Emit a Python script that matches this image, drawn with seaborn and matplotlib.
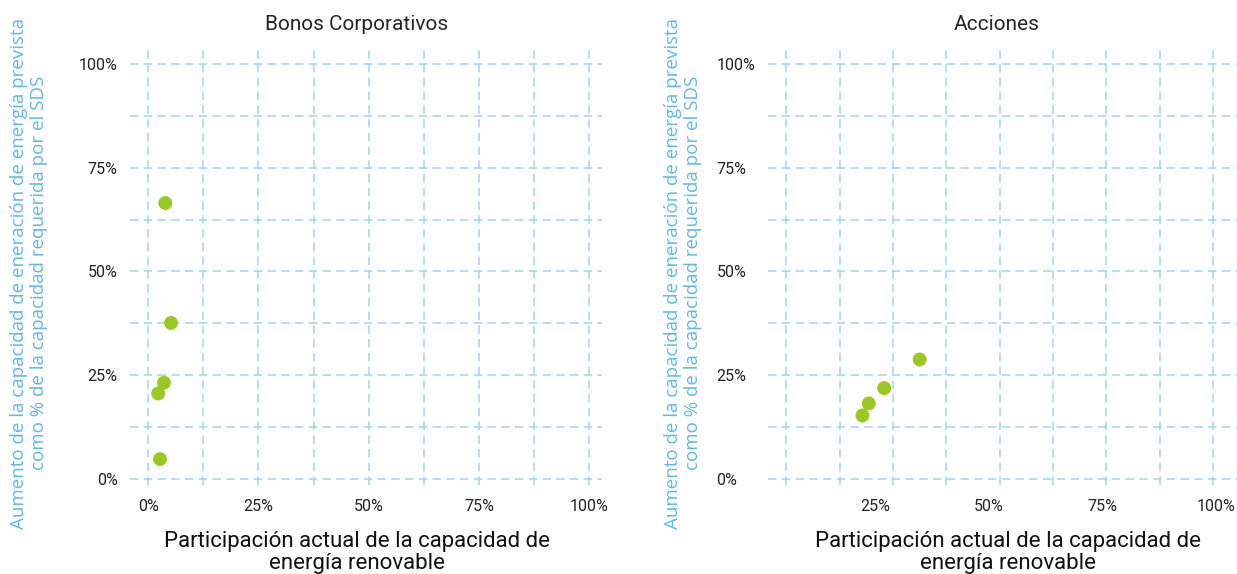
import numpy as np
import pandas as pd
import matplotlib
matplotlib.use("Agg")
import matplotlib.pyplot as plt
import matplotlib.ticker as mticker
import seaborn as sns

# datos (fracciones)
bonos_x = [0.039, 0.052, 0.036, 0.023, 0.027]
bonos_y = [0.665, 0.376, 0.232, 0.206, 0.048]
acciones_x = [0.347, 0.269, 0.235, 0.221]
acciones_y = [0.288, 0.219, 0.182, 0.153]

titles = ["Bonos Corporativos", "Acciones"]
tick_vals = [0, 0.25, 0.5, 0.75, 1.0]
tick_labels = ["0%", "25%", "50%", "75%", "100%"]

xlabel = "Participación actual de la capacidad de\nenergía renovable"
ylabel = ("Aumento de la capacidad de eneración de energía prevista\n"
          "como % de la capacidad requerida por el SDS")

green = "#9bc824"
grid_blue = "#a3d4ef"
label_blue = "#62b9e2"
dash = (0, (5.5, 3.5))

sns.set_style("white")
plt.rcParams["font.family"] = ["Roboto", "DejaVu Sans"]

W, H = 1237, 574
fig = plt.figure(figsize=(W / 100, H / 100), dpi=100)


def px_axes(left, right, top, bottom):
    return fig.add_axes([left / W, (H - bottom) / H, (right - left) / W, (bottom - top) / H])


ax1 = px_axes(130, 602, 47, 485)
ax2 = px_axes(768, 1237, 47, 485)

df1 = pd.DataFrame({"x": bonos_x, "y": bonos_y})
df2 = pd.DataFrame({"x": acciones_x, "y": acciones_y})

for ax, df in [(ax1, df1), (ax2, df2)]:
    sns.scatterplot(data=df, x="x", y="y", ax=ax, color=green, s=100,
                    edgecolor="none", zorder=3, legend=False)
    ax.set_axisbelow(True)
    ax.set_ylim(-0.0145, 1.041)
    ax.set_yticks(tick_vals)
    ax.set_yticklabels(tick_labels)
    ax.yaxis.set_minor_locator(mticker.MultipleLocator(0.125))
    ax.set_xticks(tick_vals)
    ax.set_xticklabels(tick_labels)
    for s in ax.spines.values():
        s.set_visible(False)
    ax.tick_params(which="both", length=0, labelsize=11.5, labelcolor="#222222")
    ax.grid(True, which="both", axis="y", color=grid_blue, linestyle=dash, linewidth=1.1)
    ax.set_xlabel(xlabel, fontsize=16, color="#111111", linespacing=1.05, va="top")
    ax.set_ylabel(ylabel, fontsize=13.5, color=label_blue, linespacing=1.15,
                  va="center", family=["Open Sans", "DejaVu Sans"])

# panel izquierdo: rejilla alineada con las marcas
ax1.set_xlim(-0.041, 1.029)
ax1.xaxis.set_minor_locator(mticker.MultipleLocator(0.125))
ax1.grid(True, which="both", axis="x", color=grid_blue, linestyle=dash, linewidth=1.1)
ax1.tick_params(axis="y", pad=9)
ax1.tick_params(axis="x", pad=10)
ax1.set_title(titles[0], fontsize=15, pad=12)
ax1.title.set_x(0.481)
ax1.xaxis.set_label_coords(0.481, -0.105)
ax1.yaxis.set_label_coords(-0.214, 0.484)

# panel derecho: la rejilla vertical está desplazada respecto a las etiquetas
ax2.set_xlim(0.013, 1.046)
ax2.xaxis.set_minor_locator(mticker.FixedLocator(np.linspace(0.053, 0.993, 9)))
ax2.grid(True, which="minor", axis="x", color=grid_blue, linestyle=dash, linewidth=1.1)
for lab in ax2.get_yticklabels():
    lab.set_horizontalalignment("left")
ax2.tick_params(axis="y", pad=37)
ax2.tick_params(axis="x", pad=10)
ax2.set_title(titles[1], fontsize=15, pad=12)
ax2.title.set_x(0.488)
ax2.xaxis.set_label_coords(0.512, -0.105)
ax2.yaxis.set_label_coords(-0.181, 0.484)

fig.savefig("out.png", dpi=100)
plt.close(fig)
